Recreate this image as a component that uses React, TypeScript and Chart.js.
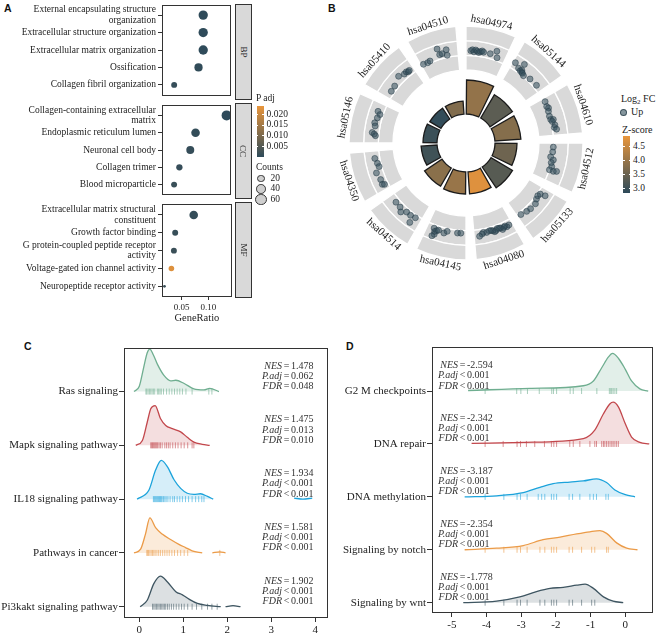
import React, { useEffect, useRef } from "react";
import { Chart, registerables } from "chart.js";

Chart.register(...registerables);

const SERIF = '"Liberation Serif", "DejaVu Serif", serif';
const SANS = '"Liberation Sans", Arial, sans-serif';
const INK = "#222222";
Chart.defaults.font.family = SERIF;
Chart.defaults.color = INK;

// ---------------- Panel A data ----------------
const bpTerms: any[] = [["External encapsulating structure", "organization"], "Extracellular structure organization", "Extracellular matrix organization", "Ossification", "Collagen fibril organization"];
const bpRatio = [0.0906, 0.0906, 0.0906, 0.0818, 0.0359];
const bpCount = [59, 59, 59, 46, 24];
const bpPadj = [0.0002, 0.0002, 0.0002, 0.0005, 0.0012];

const ccTerms: any[] = [["Collagen-containing extracellular", "matrix"], "Endoplasmic reticulum lumen", "Neuronal cell body", "Collagen trimer", "Blood microparticle"];
const ccRatio = [0.1353, 0.0765, 0.0665, 0.0459, 0.0359];
const ccCount = [68, 50, 43, 27, 24];
const ccPadj = [0.0001, 0.0008, 0.001, 0.0011, 0.0015];

const mfTerms: any[] = [["Extracellular matrix structural", "constituent"], "Growth factor binding", ["G protein-coupled peptide receptor", "activity"], "Voltage-gated ion channel activity", "Neuropeptide receptor activity"];
const mfRatio = [0.0724, 0.0377, 0.0353, 0.0306, 0.0176];
const mfCount = [50, 24, 24, 21, 5];
const mfPadj = [0.0009, 0.0013, 0.0016, 0.0225, 0.0017];

const ratioTicks = [0.05, 0.1];
const padjTicks = [0.005, 0.01, 0.015, 0.02];
const countTicks = [20, 40, 60];

// ---------------- Panel B data ----------------
const pathways = ["hsa04974", "hsa05144", "hsa04610", "hsa04512", "hsa05133", "hsa04080", "hsa04145", "hsa04514", "hsa04350", "hsa05146", "hsa05410", "hsa04510"];
const pathwayCount = [34, 27, 26, 22, 25, 22, 22, 21, 16, 14, 13, 13];
const pathwayZ = [3.95, 3.35, 3.8, 3.55, 3.3, 4.75, 4.0, 3.85, 3.05, 3.0, 2.9, 3.75];
const zTicks = [3.0, 3.5, 4.0, 4.5];
// genes: [position in sector (deg), log2FC]
const g04974 = [[3, 3.0], [4, 3.14], [5, 2.86], [6, 3.14], [7, 3.0], [8, 2.86], [9, 3.0], [10, 3.14], [11, 3.0], [15.2, 3.01], [18.6, 3.61], [20, 2.75]];
const g05144 = [[1.6, 3.25], [6.6, 3.76], [5.1, 2.85], [6.9, 2.7], [7.5, 2.9], [8.3, 2.65], [9, 2.6], [10.5, 2.44], [15, 2.73], [20.7, 2.8]];
const g04610 = [[2.4, 2.55], [5.7, 2.45], [7, 2.6], [9, 2.41], [12.2, 2.32], [14.5, 2.36], [14.9, 2.71], [16, 2.5], [18.5, 2.75], [20, 2.6], [21.3, 2.88]];
const g04512 = [[2.7, 2.29], [5.9, 2.25], [9.3, 2.06], [11, 2.51], [13, 2.3], [15.4, 2.5], [17.8, 2.32], [18, 2.9], [17.4, 3.34]];
const g05133 = [[22.5, 2.67], [18.4, 2.85], [15.5, 2.95], [11.2, 2.97], [8.5, 2.65], [6.3, 2.52], [4.5, 2.67], [3.7, 3.37]];
const g04080 = [[2.4, 3.0], [4, 3.1], [5, 2.9], [6, 3.0], [7, 3.2], [8, 2.9], [8.8, 2.85], [10, 2.8], [11, 3.0], [12, 3.1], [13, 2.9], [14, 2.8], [15.1, 2.77], [17, 2.9], [19, 2.8], [20, 3.0], [21.7, 3.25]];
const g04145 = [[20.5, 2.78], [19.5, 3.2], [18.5, 3.0], [17.5, 2.85], [19.2, 3.57], [20.2, 3.89], [13.8, 3.03], [12, 2.7], [5.4, 2.71], [3.3, 2.69]];
const g04514 = [[19.8, 2.89], [15.8, 2.92], [13.4, 3.34], [10.7, 2.8], [7.5, 2.81], [5.3, 3.67], [4.1, 2.69]];
const g04350 = [[20.4, 3.0], [17.1, 2.77], [14.8, 2.66], [11.5, 3.27], [6.8, 3.05], [3.7, 3.12], [3.1, 2.85]];
const g05146 = [[19.8, 3.14], [18.3, 2.73], [15.8, 2.95], [12.5, 3.14], [10.6, 2.99], [6.4, 3.26], [5.6, 2.96], [4.6, 2.77]];
const g05410 = [[4.7, 2.77], [8.6, 2.83], [14.7, 3.33], [18.2, 3.0], [20, 3.05], [21, 2.89], [22, 2.95]];
const g04510 = [[1.6, 2.58], [4.5, 2.51], [6.3, 2.59], [12.9, 3.82], [13.4, 2.96], [15, 3.0], [17.9, 2.62], [18, 3.4]];
const pathwayGenes = [g04974, g05144, g04610, g04512, g05133, g04080, g04145, g04514, g04350, g05146, g05410, g04510];

// ---------------- Panel C data ----------------
const cNames = ["Ras signaling", "Mapk signaling pathway", "IL18 signaling pathway", "Pathways in cancer", "Pi3kakt signaling pathway"];
const rasDensity = [[-0.12, 0], [0.0, 0.1], [0.1, 0.45], [0.18, 0.72], [0.24, 0.79], [0.32, 0.68], [0.41, 0.51], [0.56, 0.3], [0.71, 0.2], [0.83, 0.21], [1.02, 0.15], [1.24, 0.05], [1.47, 0.03], [1.6, 0.06], [1.81, 0]];
const mapkDensity = [[-0.08, 0], [0.07, 0.09], [0.18, 0.43], [0.26, 0.68], [0.36, 0.74], [0.48, 0.5], [0.6, 0.37], [0.75, 0.31], [0.94, 0.25], [1.09, 0.15], [1.24, 0.06], [1.43, 0.02], [1.6, 0]];
const il18Density = [[-0.05, 0], [0.22, 0.17], [0.37, 0.54], [0.5, 0.72], [0.64, 0.6], [0.79, 0.36], [0.94, 0.2], [1.09, 0.11], [1.24, 0.09], [1.39, 0.1], [1.55, 0.05], [1.68, 0]];
const il18Tail = [[3.52, 0.02], [3.72, 0], [3.93, 0.02]];
const cancerDensity = [[-0.12, 0], [0.03, 0.07], [0.14, 0.35], [0.24, 0.65], [0.37, 0.47], [0.52, 0.35], [0.71, 0.25], [0.9, 0.16], [1.05, 0.1], [1.2, 0.04], [1.43, 0]];
const cancerTail = [[1.66, 0], [1.83, 0.02], [1.96, 0]];
const pi3kDensity = [[0.02, 0], [0.18, 0.12], [0.33, 0.43], [0.48, 0.57], [0.64, 0.46], [0.83, 0.28], [0.98, 0.22], [1.13, 0.14], [1.32, 0.06], [1.55, 0.025], [1.85, 0]];
const pi3kTail = [[1.96, 0], [2.13, 0.02], [2.3, 0]];
const rasRug = [0.15, 0.17, 0.2, 0.23, 0.26, 0.29, 0.32, 0.35, 0.41, 0.44, 0.47, 0.5, 0.55, 0.62, 0.68, 0.74, 0.8, 0.86, 0.92, 0.98, 1.06, 1.2, 1.58, 1.65];
const mapkRug = [0.26, 0.28, 0.3, 0.32, 0.34, 0.36, 0.38, 0.4, 0.42, 0.45, 0.48, 0.52, 0.58, 0.62, 0.66, 0.7, 0.76, 0.82, 0.88, 0.95, 1.02, 1.1, 1.2, 1.24];
const il18Rug = [0.32, 0.34, 0.36, 0.38, 0.4, 0.42, 0.44, 0.46, 0.48, 0.5, 0.52, 0.55, 0.58, 0.61, 0.65, 0.7, 0.76, 0.8, 0.86, 0.92, 0.98, 1.05, 1.12, 1.2, 1.28, 1.35, 1.42, 1.47];
const cancerRug = [0.17, 0.19, 0.21, 0.24, 0.27, 0.3, 0.33, 0.36, 0.4, 0.44, 0.48, 0.53, 0.58, 0.63, 0.68, 0.74, 0.8, 0.87, 0.94, 1.02, 1.1, 1.83];
const pi3kRug = [0.3, 0.33, 0.36, 0.39, 0.42, 0.45, 0.48, 0.51, 0.54, 0.57, 0.6, 0.64, 0.68, 0.73, 0.78, 0.84, 0.9, 0.96, 1.02, 1.1, 1.2, 1.3, 1.42, 1.55, 1.65, 1.77];
const cNES = ["1.478", "1.475", "1.934", "1.581", "1.902"];
const cPadj = ["= 0.062", "= 0.013", "< 0.001", "< 0.001", "< 0.001"];
const cFDR = ["= 0.048", "= 0.010", "< 0.001", "< 0.001", "< 0.001"];
const cTicks = [0, 1, 2, 3, 4];

// ---------------- Panel D data ----------------
const dNames = ["G2 M checkpoints", "DNA repair", "DNA methylation", "Signaling by notch", "Signaling by wnt"];
const g2mDensity = [[-4.53, 0.01], [-2.75, 0.05], [-1.21, 0.1], [-0.92, 0.19], [-0.68, 0.44], [-0.49, 0.64], [-0.37, 0.71], [-0.2, 0.62], [0, 0.41], [0.18, 0.19], [0.42, 0.04], [0.66, 0]];
const repairDensity = [[-4.43, 0.01], [-2.9, 0.03], [-1.21, 0.1], [-0.88, 0.26], [-0.63, 0.57], [-0.44, 0.76], [-0.35, 0.79], [-0.2, 0.7], [0, 0.38], [0.18, 0.13], [0.42, 0.03], [0.69, 0]];
const methylDensity = [[-4.63, 0], [-3.71, 0.02], [-2.94, 0.08], [-2.46, 0.18], [-2.08, 0.25], [-1.6, 0.28], [-1.21, 0.3], [-0.83, 0.34], [-0.54, 0.27], [-0.3, 0.13], [0, 0.04], [0.28, 0]];
const notchDensity = [[-4.63, 0], [-3.71, 0.03], [-2.94, 0.08], [-2.37, 0.19], [-1.88, 0.24], [-1.4, 0.3], [-1.02, 0.34], [-0.73, 0.36], [-0.54, 0.31], [-0.25, 0.13], [0.04, 0.03], [0.35, 0]];
const wntDensity = [[-4.67, 0], [-3.71, 0.03], [-3.04, 0.11], [-2.56, 0.21], [-2.17, 0.27], [-1.79, 0.29], [-1.4, 0.33], [-1.16, 0.35], [-0.92, 0.27], [-0.63, 0.11], [-0.35, 0.03], [-0.06, 0]];
const g2mRug = [-4.04, -3.13, -3.01, -2.82, -2.48, -2.12, -2.07, -1.98, -1.59, -1.5, -1.26, -0.82, -0.46, -0.42, -0.39, -0.35, -0.3, -0.25];
const repairRug = [-4.04, -3.52, -3.12, -3.02, -2.85, -2.61, -2.33, -2.13, -2.06, -1.98, -1.6, -1.5, -1.31, -1.02, -0.88, -0.83, -0.68, -0.63, -0.59, -0.54, -0.49, -0.44, -0.39, -0.35, -0.3, -0.25, -0.2];
const methylRug = [-4.04, -3.5, -3.12, -3.02, -2.83, -2.51, -2.41, -2.32, -2.13, -2.06, -1.98, -1.62, -1.52, -1.31, -1.02, -0.92, -0.83, -0.56, -0.49];
const notchRug = [-4.04, -3.5, -3.12, -3.02, -2.83, -2.46, -2.32, -2.13, -2.06, -1.98, -1.62, -1.52, -1.26, -0.97, -0.88, -0.54, -0.49];
const wntRug = [-4.04, -3.5, -3.12, -3.02, -2.83, -2.46, -2.32, -2.13, -2.06, -1.98, -1.62, -1.52, -1.26, -0.97, -0.88];
const dNES = ["-2.594", "-2.342", "-3.187", "-2.354", "-1.778"];
const dPadj = ["< 0.001", "< 0.001", "< 0.001", "< 0.001", "< 0.001"];
const dFDR = ["< 0.001", "< 0.001", "< 0.001", "< 0.001", "< 0.001"];
const dTicks = [-5, -4, -3, -2, -1, 0];

// ---------------- styling helpers ----------------
const LOW = [45, 74, 90];
const HIGH = [233, 150, 60];
function mix(t: number) {
  const u = Math.max(0, Math.min(1, t));
  const c = LOW.map((l, i) => Math.round(l + (HIGH[i] - l) * u));
  return `rgb(${c[0]},${c[1]},${c[2]})`;
}
const PADJ_MAX = 0.024;
const padjColor = (p: number) => mix(p / PADJ_MAX);
const Z_MIN = 2.85, Z_MAX = 4.87;
const zColor = (z: number) => mix((z - Z_MIN) / (Z_MAX - Z_MIN));
const sizeOf = (c: number) => 0.607 * Math.sqrt(c);

const ridgeColors = [
  { line: "#6fae90", fill: "rgba(111,174,144,0.2)", rug: "rgba(111,174,144,0.6)" },
  { line: "#c2474c", fill: "rgba(194,71,76,0.18)", rug: "rgba(194,71,76,0.6)" },
  { line: "#1ca3db", fill: "rgba(28,163,219,0.18)", rug: "rgba(28,163,219,0.55)" },
  { line: "#eb9b48", fill: "rgba(235,155,72,0.2)", rug: "rgba(235,155,72,0.6)" },
  { line: "#3e5561", fill: "rgba(62,85,97,0.18)", rug: "rgba(62,85,97,0.55)" },
];

const baseOpts: any = {
  animation: false,
  responsive: false,
  events: [],
  plugins: { legend: { display: false }, tooltip: { enabled: false } },
};

const boxPlugin = {
  id: "box",
  afterDraw(chart: any) {
    const { ctx, chartArea: a } = chart;
    ctx.save();
    ctx.strokeStyle = "#333";
    ctx.lineWidth = 1;
    ctx.strokeRect(Math.round(a.left) + 0.5, Math.round(a.top) + 0.5, Math.round(a.right - a.left) - 1, Math.round(a.bottom - a.top) - 1);
    ctx.restore();
  },
};

// ---------------- Panel A config ----------------
function dotConfig(terms: any[], ratio: number[], count: number[], padj: number[], padTop: number, padBottom: number, showX: boolean) {
  return {
    type: "scatter",
    data: {
      datasets: [
        {
          data: ratio.map((x, i) => ({ x, y: i })),
          pointRadius: count.map(sizeOf),
          pointHoverRadius: count.map(sizeOf),
          backgroundColor: padj.map(padjColor),
          borderWidth: 0,
        },
      ],
    },
    options: {
      ...baseOpts,
      layout: { padding: { top: padTop, bottom: padBottom, left: 0, right: 0 } },
      scales: {
        x: {
          type: "linear",
          min: 0.013,
          max: 0.1436,
          display: showX,
          afterBuildTicks: (s: any) => { s.ticks = ratioTicks.map((v) => ({ value: v })); },
          afterFit: (s: any) => { if (showX) s.height = 29; s.paddingLeft = 0; s.paddingRight = 0; },
          ticks: { autoSkip: false, maxRotation: 0, padding: 2, color: INK, font: { family: SERIF, size: 9 }, callback: (v: number) => v.toFixed(2) },
          grid: { drawOnChartArea: false, drawTicks: true, tickLength: 3, color: "#333" },
          border: { display: false },
          title: { display: true, text: "GeneRatio", color: INK, font: { family: SERIF, size: 10.5 }, padding: { top: 0, bottom: 1 } },
        },
        y: {
          type: "linear",
          reverse: true,
          min: -0.6,
          max: terms.length - 0.4,
          afterBuildTicks: (s: any) => { s.ticks = terms.map((_: any, i: number) => ({ value: i })); },
          afterFit: (s: any) => { s.width = 162; s.paddingTop = 0; s.paddingBottom = 0; },
          ticks: { autoSkip: false, padding: 2, color: INK, font: { family: SERIF, size: 9.5, lineHeight: 1.12 }, callback: (v: number) => terms[v] },
          grid: { drawOnChartArea: false, drawTicks: true, tickLength: 4, color: "#333" },
          border: { display: false },
        },
      },
    },
    plugins: [boxPlugin],
  };
}

// ---------------- Panel B config ----------------
const SECTOR = 360 / pathways.length;
const RING_GAP = 5;
const RING_IN = 73, RING_OUT = 117;
const LFC_MAX = 6;
const HOLE = 29;
const BAR_GAP = 4.5;
const LABEL_R = 123;
const LABEL_DEG = 12;
const B_SIZE = 280;

const labelPlugin = {
  id: "pathLabels",
  afterDraw(chart: any) {
    const arc = chart.getDatasetMeta(0).data[0];
    const cx = arc.x, cy = arc.y;
    const ctx = chart.ctx;
    ctx.save();
    ctx.font = `11px ${SERIF}`;
    ctx.fillStyle = INK;
    ctx.textAlign = "center";
    ctx.textBaseline = "middle";
    pathways.forEach((name, i) => {
      const th = ((i * SECTOR + LABEL_DEG) * Math.PI) / 180;
      const x = cx + LABEL_R * Math.sin(th);
      const y = cy - LABEL_R * Math.cos(th);
      const rot = Math.cos(th) >= 0 ? th : th - Math.PI;
      ctx.save();
      ctx.translate(x, y);
      ctx.rotate(rot);
      ctx.fillText(name, 0, 0);
      ctx.restore();
    });
    ctx.restore();
  },
};

function ringConfig() {
  const ring = () => ({
    data: pathways.flatMap(() => [SECTOR - RING_GAP, RING_GAP]),
    backgroundColor: pathways.flatMap(() => ["#d9d9d9", "rgba(0,0,0,0)"]),
    borderColor: pathways.flatMap(() => ["#ffffff", "rgba(0,0,0,0)"]),
    borderWidth: pathways.flatMap(() => [1.3, 0]),
  });
  return {
    type: "doughnut",
    data: { labels: pathways.flatMap((p) => [p, ""]), datasets: [ring(), ring(), ring()] },
    options: { ...baseOpts, rotation: 0, radius: RING_OUT, cutout: `${(RING_IN / RING_OUT) * 100}%` },
    plugins: [labelPlugin],
  };
}

const holePlugin = {
  id: "hole",
  beforeDatasetsDraw(chart: any) {
    const r0 = chart.scales.r.getDistanceFromCenterForValue(0);
    chart.getDatasetMeta(0).data.forEach((a: any) => { a.innerRadius = r0; });
  },
};

function barConfig() {
  return {
    type: "polarArea",
    data: {
      labels: pathways.flatMap((p) => [p, ""]),
      datasets: [
        {
          data: pathwayCount.flatMap((v) => [v, 0]),
          backgroundColor: pathwayZ.flatMap((z) => [zColor(z), "rgba(0,0,0,0)"]),
          borderColor: pathwayZ.flatMap(() => ["#1b1b1b", "rgba(0,0,0,0)"]),
          borderWidth: pathwayZ.flatMap(() => [1.3, 0]),
          borderJoinStyle: "miter",
          angle: pathwayZ.flatMap(() => [SECTOR - BAR_GAP, BAR_GAP]),
        },
      ],
    },
    options: {
      ...baseOpts,
      scales: {
        r: {
          min: -HOLE,
          max: B_SIZE / 2 - HOLE,
          startAngle: 0.5,
          ticks: { display: false },
          grid: { display: false },
          angleLines: { display: false },
          pointLabels: { display: false },
        },
      },
    },
    plugins: [holePlugin],
  };
}

function geneConfig() {
  const pts = pathwayGenes.flatMap((genes, i) =>
    genes.map(([pos, lfc]) => {
      const a = ((i * SECTOR + pos) * Math.PI) / 180;
      const r = RING_IN + (lfc / LFC_MAX) * (RING_OUT - RING_IN);
      return { x: r * Math.sin(a), y: r * Math.cos(a) };
    })
  );
  return {
    type: "scatter",
    data: {
      datasets: [
        {
          data: pts,
          pointRadius: 3,
          pointHoverRadius: 3,
          backgroundColor: "rgba(52,80,92,0.55)",
          borderColor: "rgba(40,62,72,0.75)",
          borderWidth: 0.7,
        },
      ],
    },
    options: {
      ...baseOpts,
      scales: {
        x: { type: "linear", min: -B_SIZE / 2, max: B_SIZE / 2, display: false },
        y: { type: "linear", min: -B_SIZE / 2, max: B_SIZE / 2, display: false },
      },
    },
  };
}

// ---------------- Panel C / D config ----------------
function ridgeConfig(p: any) {
  const n = p.names.length;
  const baseOf = (i: number) => n - 1 - i;
  const datasets: any[] = [];
  p.curves.forEach((curve: number[][], i: number) => {
    const b = baseOf(i);
    const c = ridgeColors[i];
    const segs = p.tails[i] ? [curve, p.tails[i]] : [curve];
    segs.forEach((seg: number[][]) =>
      datasets.push({
        type: "line",
        data: seg.map(([x, h]) => ({ x, y: b + h })),
        borderColor: c.line,
        backgroundColor: c.fill,
        fill: { value: b },
        borderWidth: 1.3,
        pointRadius: 0,
        tension: 0.4,
        cubicInterpolationMode: "monotone",
      })
    );
    datasets.push({
      type: "scatter",
      data: p.rugs[i].map((x: number) => ({ x, y: b })),
      pointStyle: "line",
      rotation: 90,
      pointRadius: 3,
      pointHoverRadius: 3,
      borderColor: c.rug,
      backgroundColor: c.rug,
      borderWidth: 1,
    });
  });

  const statsPlugin = {
    id: "stats",
    afterDatasetsDraw(chart: any) {
      const { ctx, chartArea, scales } = chart;
      const xr = p.statX(chartArea);
      ctx.save();
      ctx.fillStyle = "#333";
      ctx.textBaseline = "middle";
      p.names.forEach((_: string, i: number) => {
        const yb = scales.y.getPixelForValue(baseOf(i));
        const rows = [
          ["NES", "=", p.nes[i]],
          ["P.adj", p.padj[i].split(" ")[0], p.padj[i].split(" ")[1]],
          ["FDR", p.fdr[i].split(" ")[0], p.fdr[i].split(" ")[1]],
        ];
        const offs = [25.5, 15.3, 5.1];
        rows.forEach((r, k) => {
          const y = yb - offs[k];
          ctx.font = `italic 10px ${SERIF}`;
          ctx.textAlign = "right";
          ctx.fillText(r[0], xr, y);
          ctx.font = `10px ${SERIF}`;
          ctx.textAlign = "center";
          ctx.fillText(r[1], xr + 4.5, y);
          ctx.textAlign = "left";
          ctx.fillText(r[2], xr + 9, y);
        });
      });
      ctx.restore();
    },
  };

  return {
    type: "line",
    data: { datasets },
    options: {
      ...baseOpts,
      layout: { padding: { top: p.padTop, right: p.padRight, left: 0, bottom: 0 } },
      scales: {
        x: {
          type: "linear",
          min: p.xMin,
          max: p.xMax,
          afterBuildTicks: (s: any) => { s.ticks = p.xTicks.map((v: number) => ({ value: v })); },
          afterFit: (s: any) => { s.height = p.axisH; s.paddingLeft = 0; s.paddingRight = 0; },
          ticks: { autoSkip: false, maxRotation: 0, padding: 2, color: INK, font: { family: SERIF, size: 11 }, callback: (v: number) => String(v) },
          grid: { drawOnChartArea: false, drawTicks: true, tickLength: 4, color: "#333" },
          border: { display: false },
        },
        y: {
          type: "linear",
          min: p.yMin,
          max: p.yMax,
          afterBuildTicks: (s: any) => { s.ticks = p.names.map((_: string, i: number) => ({ value: baseOf(i) })); },
          afterFit: (s: any) => { s.width = p.axisW; s.paddingTop = 0; s.paddingBottom = 0; },
          ticks: { autoSkip: false, padding: 1, color: INK, font: { family: SERIF, size: 11 }, callback: (v: number) => p.names[n - 1 - v] },
          grid: { drawOnChartArea: false, drawTicks: true, tickLength: 5, color: "#333" },
          border: { display: false },
        },
      },
    },
    plugins: [statsPlugin, boxPlugin],
  };
}

const cConfig = () =>
  ridgeConfig({
    names: cNames,
    curves: [rasDensity, mapkDensity, il18Density, cancerDensity, pi3kDensity],
    tails: [null, null, il18Tail, cancerTail, pi3kTail],
    rugs: [rasRug, mapkRug, il18Rug, cancerRug, pi3kRug],
    nes: cNES, padj: cPadj, fdr: cFDR,
    xMin: -0.348, xMax: 4.289, yMin: -0.21, yMax: 4.81, xTicks: cTicks,
    padTop: 8, padRight: 4, axisW: 124, axisH: 20,
    statX: (a: any) => a.right - 46,
  });

const dConfig = () =>
  ridgeConfig({
    names: dNames,
    curves: [g2mDensity, repairDensity, methylDensity, notchDensity, wntDensity],
    tails: [null, null, null, null, null],
    rugs: [g2mRug, repairRug, methylRug, notchRug, wntRug],
    nes: dNES, padj: dPadj, fdr: dFDR,
    xMin: -5.571, xMax: 0.798, yMin: -0.195, yMax: 4.832, xTicks: dTicks,
    padTop: 9, padRight: 11, axisW: 100, axisH: 25,
    statX: (a: any) => a.left + 26,
  });

// ---------------- React ----------------
function ChartCanvas({ x, y, w, h, make }: any) {
  const ref = useRef<HTMLCanvasElement | null>(null);
  useEffect(() => {
    if (!ref.current) return;
    const chart = new Chart(ref.current, make());
    return () => chart.destroy();
  }, []);
  return <canvas ref={ref} width={w} height={h} style={{ position: "absolute", left: x, top: y, width: w, height: h }} />;
}

function Txt({ x, y, size = 10, children, style }: any) {
  return (
    <div style={{ position: "absolute", left: x, top: y - size * 0.6, fontFamily: SERIF, fontSize: size, lineHeight: 1.2, color: INK, whiteSpace: "nowrap", ...style }}>
      {children}
    </div>
  );
}

function Strip({ top, label }: any) {
  return (
    <div style={{ position: "absolute", left: 235, top, width: 15, height: 94, background: "#d9d9d9", border: "1px solid #333", display: "flex", alignItems: "center", justifyContent: "center" }}>
      <div style={{ transform: "rotate(90deg)", fontFamily: SERIF, fontSize: 9, color: INK }}>{label}</div>
    </div>
  );
}

const PADJ_BAR_TOP = 106, PADJ_BAR_H = 51;
const padjY = (v: number) => PADJ_BAR_TOP + ((PADJ_MAX - v) / PADJ_MAX) * PADJ_BAR_H;
const Z_BAR_TOP = 136, Z_BAR_H = 57;
const zY = (z: number) => Z_BAR_TOP + ((Z_MAX - z) / (Z_MAX - Z_MIN)) * Z_BAR_H;

function ColorBar({ x, top, h, colors, ticks }: any) {
  return (
    <>
      <div style={{ position: "absolute", left: x, top, width: 7, height: h, background: `linear-gradient(to top, ${colors[0]}, ${colors[1]})` }} />
      {ticks.map((ty: number, i: number) => (
        <React.Fragment key={i}>
          <div style={{ position: "absolute", left: x, top: ty - 0.5, width: 1.5, height: 1, background: "#fff" }} />
          <div style={{ position: "absolute", left: x + 5.5, top: ty - 0.5, width: 1.5, height: 1, background: "#fff" }} />
        </React.Fragment>
      ))}
    </>
  );
}

const letter = (s: string, x: number, y: number) => (
  <div style={{ position: "absolute", left: x, top: y, fontFamily: SANS, fontWeight: "bold", fontSize: 10.5, color: "#111" }}>{s}</div>
);

export default function App() {
  const bx = 466 - B_SIZE / 2, by = 143 - B_SIZE / 2;
  return (
    <div style={{ position: "absolute", left: 0, top: 0, width: 664, height: 638, background: "#fff", overflow: "hidden" }}>
      {letter("A", 4, 2)}
      {letter("B", 328, 2)}
      {letter("C", 24, 340)}
      {letter("D", 346, 340)}

      {/* Panel A */}
      <ChartCanvas x={0} y={0} w={236} h={100} make={() => dotConfig(bpTerms, bpRatio, bpCount, bpPadj, 4, 1, false)} />
      <ChartCanvas x={0} y={100} w={236} h={100} make={() => dotConfig(ccTerms, ccRatio, ccCount, ccPadj, 3, 2, false)} />
      <ChartCanvas x={0} y={200} w={236} h={126} make={() => dotConfig(mfTerms, mfRatio, mfCount, mfPadj, 2, 0, true)} />
      <Strip top={4} label="BP" />
      <Strip top={103} label="CC" />
      <Strip top={202} label="MF" />

      <Txt x={256} y={99} size={9.5}>P adj</Txt>
      <ColorBar x={256.5} top={PADJ_BAR_TOP} h={PADJ_BAR_H} colors={[padjColor(0), padjColor(PADJ_MAX)]} ticks={padjTicks.map(padjY)} />
      {padjTicks.map((v) => (
        <Txt key={v} x={266.5} y={padjY(v)} size={9.5}>{v.toFixed(3)}</Txt>
      ))}
      <Txt x={256} y={167.5} size={9.5}>Counts</Txt>
      {countTicks.map((c, i) => {
        const r = sizeOf(c);
        const cy = 178.3 + i * 10.5;
        return (
          <React.Fragment key={c}>
            <div style={{ position: "absolute", left: 261 - r - 0.8, top: cy - r - 0.8, width: 2 * r, height: 2 * r, borderRadius: "50%", background: "#cfcfcf", border: "0.8px solid #333" }} />
            <Txt x={270.5} y={cy} size={9.5}>{c}</Txt>
          </React.Fragment>
        );
      })}

      {/* Panel B */}
      <ChartCanvas x={bx} y={by} w={B_SIZE} h={B_SIZE} make={ringConfig} />
      <ChartCanvas x={bx} y={by} w={B_SIZE} h={B_SIZE} make={barConfig} />
      <ChartCanvas x={bx} y={by} w={B_SIZE} h={B_SIZE} make={geneConfig} />

      <Txt x={621} y={98.5} size={10}>
        Log<span style={{ fontSize: 7, verticalAlign: -2 }}>2</span> FC
      </Txt>
      <div style={{ position: "absolute", left: 620.3, top: 108.5, width: 5, height: 5, borderRadius: "50%", background: "rgba(52,80,92,0.6)", border: "0.7px solid rgba(40,62,72,0.8)" }} />
      <Txt x={631} y={111.5} size={10}>Up</Txt>
      <Txt x={622} y={129.5} size={10}>Z-score</Txt>
      <ColorBar x={623} top={Z_BAR_TOP} h={Z_BAR_H} colors={[zColor(Z_MIN), zColor(Z_MAX)]} ticks={zTicks.map(zY)} />
      {zTicks.map((z) => (
        <Txt key={z} x={633} y={zY(z)} size={9.5}>{z.toFixed(1)}</Txt>
      ))}

      {/* Panel C & D */}
      <ChartCanvas x={0} y={340} w={332} h={298} make={cConfig} />
      <ChartCanvas x={332} y={338} w={332} h={300} make={dConfig} />
    </div>
  );
}
